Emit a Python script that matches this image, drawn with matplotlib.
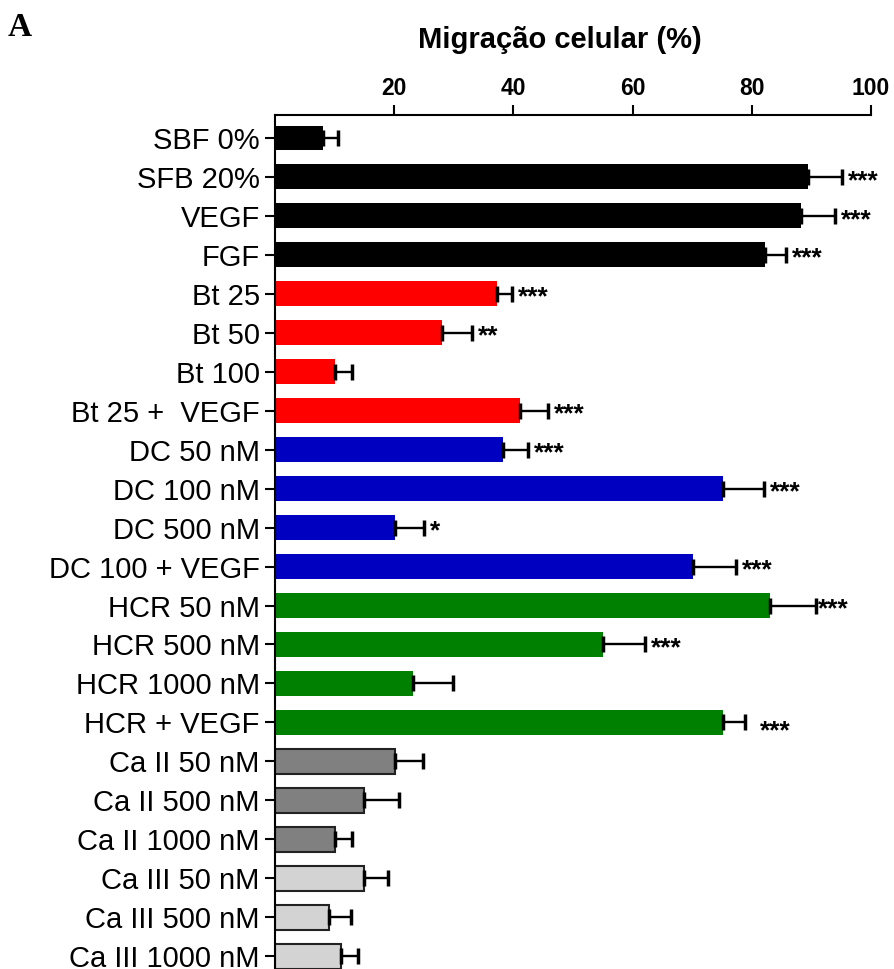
import numpy as np
import matplotlib
matplotlib.use("Agg")
from matplotlib import pyplot as plt

plt.rcParams.update({
    "font.family": ["Liberation Sans", "DejaVu Sans"],
    "axes.linewidth": 1.5,
})

# 数据
grupos = ["SBF 0%", "SFB 20%", "VEGF", "FGF",
          "Bt 25", "Bt 50", "Bt 100", "Bt 25 +  VEGF",
          "DC 50 nM", "DC 100 nM", "DC 500 nM", "DC 100 + VEGF",
          "HCR 50 nM", "HCR 500 nM", "HCR 1000 nM", "HCR + VEGF",
          "Ca II 50 nM", "Ca II 500 nM", "Ca II 1000 nM",
          "Ca III 50 nM", "Ca III 500 nM", "Ca III 1000 nM"]
migracao = [8.0, 89.4, 88.2, 82.2,
            37.2, 28.1, 10.1, 41.1,
            38.2, 75.2, 20.1, 70.2,
            83.1, 55.1, 23.1, 75.2,
            20.1, 15.0, 10.0,
            15.0, 9.0, 11.0]
erro = [2.5, 5.8, 5.8, 3.5,
        2.5, 4.9, 2.8, 4.7,
        4.2, 6.9, 4.9, 7.1,
        7.7, 6.9, 6.8, 3.7,
        4.8, 5.8, 3.0,
        3.9, 3.7, 2.9]
signif = ["", "***", "***", "***",
          "***", "**", "", "***",
          "***", "***", "*", "***",
          "***", "***", "", "***",
          "", "", "",
          "", "", ""]
cores = (["#000000"] * 4 + ["#FF0000"] * 4 + ["#0000C0"] * 4 +
         ["#008000"] * 4 + ["#808080"] * 3 + ["#D3D3D3"] * 3)
bordas = ["none"] * 16 + ["#222222"] * 6

fig = plt.figure(figsize=(8.94, 9.69), dpi=100)
ax = fig.add_axes([0.3076, 0.0, 0.6667, 0.8813])

y = np.arange(len(grupos))
ax.barh(y, migracao, height=0.64, color=cores, edgecolor=bordas, linewidth=1.5)
ax.errorbar(migracao, y, xerr=[np.zeros(len(erro)), erro], fmt="none",
            ecolor="black", elinewidth=1.7, capsize=5.5, capthick=2.5)

# asteriscos de significância
for i, (v, e, s) in enumerate(zip(migracao, erro, signif)):
    if not s:
        continue
    dx, dy = 1.0, 0.1
    if grupos[i] == "HCR 50 nM":
        dx = 0.3
    if grupos[i] == "HCR + VEGF":
        dx, dy = 2.5, 0.22
    ax.text(v + e + dx, i + dy, s, fontsize=19, fontweight="bold",
            ha="left", va="center")

ax.set_xlim(0, 100)
ax.set_ylim(len(grupos) - 0.67, -0.59)
ax.set_xticks([20, 40, 60, 80, 100])
ax.set_yticks(y)
ax.set_yticklabels(grupos, fontsize=21)
ax.xaxis.tick_top()
ax.tick_params(axis="x", labelsize=16.5, width=1.5, length=7, pad=4)
ax.tick_params(axis="y", width=1.5, length=7, pad=4)
for lab in ax.get_xticklabels():
    lab.set_fontweight("bold")
ax.spines["right"].set_visible(False)
ax.spines["bottom"].set_visible(False)

fig.text(0.626, 0.9587, "Migração celular (%)", fontsize=21, fontweight="bold",
         ha="center", va="center")

fig.text(0.009, 0.963, "A", fontsize=24, fontweight="bold",
         family=["Liberation Serif", "DejaVu Serif"], ha="left", va="baseline")

fig.savefig("out.png", dpi=100)
